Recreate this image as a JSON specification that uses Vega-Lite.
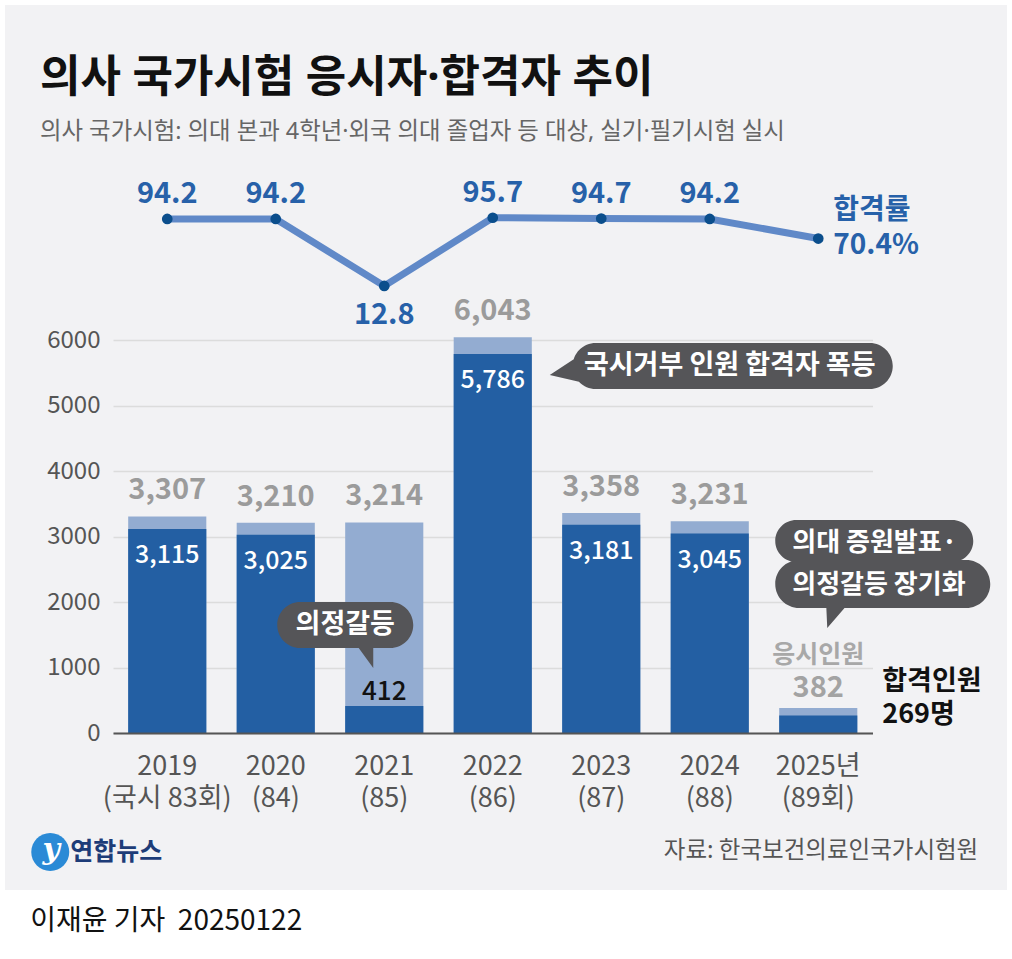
{
  "$schema": "https://vega.github.io/schema/vega-lite/v6.json",
  "width": 1002,
  "height": 885,
  "autosize": {"type": "none"},
  "padding": {"left": 5, "top": 5, "right": 5, "bottom": 69},
  "background": "#ffffff",
  "config": {
    "view": {"fill": "#f2f2f4", "stroke": null},
    "font": "Noto Sans CJK KR",
    "text": {"font": "Noto Sans CJK KR"}
  },
  "title": {
    "text": "의사 국가시험 응시자·합격자 추이",
    "subtitle": "의사 국가시험: 의대 본과 4학년·외국 의대 졸업자 등 대상, 실기·필기시험 실시",
    "anchor": "start",
    "frame": "group",
    "offset": -138,
    "dx": 35,
    "font": "Noto Sans, Noto Sans CJK KR",
    "fontSize": 44,
    "fontWeight": "bold",
    "color": "#111111",
    "subtitleFont": "Noto Sans, Noto Sans CJK KR",
    "subtitleFontSize": 23.4,
    "subtitleColor": "#666666",
    "subtitlePadding": 20
  },
  "data": {
    "values": [
      {"year": "2019", "xLabel": "2019\n(국시 83회)", "total": 3307, "pass": 3115, "rate": 94.2},
      {"year": "2020", "xLabel": "2020\n(84)", "total": 3210, "pass": 3025, "rate": 94.2},
      {"year": "2021", "xLabel": "2021\n(85)", "total": 3214, "pass": 412, "rate": 12.8},
      {"year": "2022", "xLabel": "2022\n(86)", "total": 6043, "pass": 5786, "rate": 95.7},
      {"year": "2023", "xLabel": "2023\n(87)", "total": 3358, "pass": 3181, "rate": 94.7},
      {"year": "2024", "xLabel": "2024\n(88)", "total": 3231, "pass": 3045, "rate": 94.2},
      {"year": "2025", "xLabel": "2025년\n(89회)", "total": 382, "pass": 269, "rate": 70.4}
    ]
  },
  "encoding": {
    "x": {
      "field": "year",
      "type": "nominal",
      "sort": null,
      "scale": {"type": "band", "range": [108, 867.5], "paddingInner": 0.28, "paddingOuter": 0.14},
      "axis": {"offset": -157, "labels": false, "ticks": false, "domain": true, "domainColor": "#555555", "domainWidth": 2, "grid": false, "title": null, "zindex": 1}
    }
  },
  "layer": [
    {
      "encoding": {
        "y": {
          "field": "total",
          "type": "quantitative",
          "scale": {"domain": [0, 6000], "range": [728, 335], "nice": false, "zero": true},
          "axis": {"offset": -108, "values": [0, 1000, 2000, 3000, 4000, 5000, 6000], "format": "d", "labelPadding": 13, "labelFontSize": 24, "labelColor": "#555555", "labelFont": "Noto Sans CJK KR", "ticks": false, "domain": false, "grid": true, "gridColor": "#dcdcdc", "gridWidth": 1.5, "title": null}
        }
      },
      "layer": [
        {"mark": {"type": "bar", "color": "#93acd1"}},
        {"mark": {"type": "bar", "color": "#235fa3"}, "encoding": {"y": {"field": "pass", "type": "quantitative"}}},
        {
          "transform": [{"filter": "datum.year != '2025'"}],
          "mark": {"type": "text", "dy": -17, "baseline": "alphabetic", "fontSize": 29, "fontWeight": "bold", "color": "#9b9b9b"},
          "encoding": {"text": {"field": "total", "type": "quantitative", "format": ","}}
        },
        {
          "transform": [{"filter": "datum.year == '2025'"}],
          "mark": {"type": "text", "dy": -11, "baseline": "alphabetic", "fontSize": 29, "fontWeight": "bold", "color": "#a3a3a3"},
          "encoding": {"text": {"field": "total", "type": "quantitative", "format": ","}}
        },
        {
          "transform": [{"filter": "datum.year == '2025'"}],
          "mark": {"type": "text", "dy": -45, "baseline": "alphabetic", "fontSize": 25, "fontWeight": "bold", "color": "#a8a8a8"},
          "encoding": {"text": {"value": "응시인원"}}
        },
        {
          "transform": [{"filter": "datum.year != '2021' && datum.year != '2025'"}],
          "mark": {"type": "text", "dy": 34, "baseline": "alphabetic", "fontSize": 25, "fontWeight": 500, "color": "#ffffff"},
          "encoding": {"y": {"field": "pass", "type": "quantitative"}, "text": {"field": "pass", "type": "quantitative", "format": ","}}
        },
        {
          "transform": [{"filter": "datum.year == '2021'"}],
          "mark": {"type": "text", "dy": -6, "baseline": "alphabetic", "fontSize": 26, "fontWeight": 500, "color": "#111111"},
          "encoding": {"y": {"field": "pass", "type": "quantitative"}, "text": {"field": "pass", "type": "quantitative", "format": ","}}
        },
        {
          "transform": [{"filter": "datum.year == '2025'"}],
          "mark": {"type": "text", "align": "left", "dx": 64, "dy": -33, "baseline": "middle", "lineHeight": 33, "fontSize": 27, "fontWeight": "bold", "color": "#111111"},
          "encoding": {"y": {"field": "pass", "type": "quantitative"}, "text": {"value": ["합격인원", "269명"]}}
        },
        {
          "transform": [{"filter": "datum.year == '2022'"}],
          "mark": {"type": "point", "shape": "M103 -11 L377 -11 A23 23 0 0 1 377 35 L103 35 A23 23 0 0 1 103 -11 Z M57 21 L92 -2 L96 30 Z", "size": 4, "filled": true, "color": "#555558", "opacity": 1, "strokeWidth": 0},
          "encoding": {"y": {"field": "pass", "type": "quantitative"}}
        },
        {
          "transform": [{"filter": "datum.year == '2022'"}],
          "mark": {"type": "text", "align": "center", "dx": 237, "dy": 12, "baseline": "middle", "fontSize": 27, "fontWeight": "bold", "color": "#ffffff"},
          "encoding": {"y": {"field": "pass", "type": "quantitative"}, "text": {"value": "국시거부 인원 합격자 폭등"}}
        },
        {
          "transform": [{"filter": "datum.year == '2021'"}],
          "mark": {"type": "point", "shape": "M-84 -104 L6 -104 A23 23 0 0 1 6 -58 L-84 -58 A23 23 0 0 1 -84 -104 Z M-27 -60 L-11 -60 L-11 -38 Z", "size": 4, "filled": true, "color": "#555558", "opacity": 1, "strokeWidth": 0},
          "encoding": {"y": {"field": "pass", "type": "quantitative"}}
        },
        {
          "transform": [{"filter": "datum.year == '2021'"}],
          "mark": {"type": "text", "align": "center", "dx": -39, "dy": -81, "baseline": "middle", "fontSize": 27, "fontWeight": "bold", "color": "#ffffff"},
          "encoding": {"y": {"field": "pass", "type": "quantitative"}, "text": {"value": "의정갈등"}}
        },
        {
          "transform": [{"filter": "datum.year == '2025'"}],
          "mark": {"type": "point", "shape": "M-22 -188 L134 -188 A21 21 0 0 1 134 -146 L-22 -146 A21 21 0 0 1 -22 -188 Z M-19 -148 L148 -148 A24 24 0 0 1 148 -100 L-19 -100 A24 24 0 0 1 -19 -148 Z M8 -102 L28 -102 L9 -80 Z", "size": 4, "filled": true, "color": "#555558", "opacity": 1, "strokeWidth": 0}
        },
        {
          "transform": [{"filter": "datum.year == '2025'"}],
          "mark": {"type": "text", "align": "left", "dx": -26, "dy": -165, "baseline": "middle", "lineHeight": 42, "fontSize": 26, "fontWeight": "bold", "color": "#ffffff"},
          "encoding": {"text": {"value": ["의대 증원발표·", "의정갈등 장기화"]}}
        },
        {
          "mark": {"type": "text", "dy": 42, "baseline": "alphabetic", "lineBreak": "\n", "lineHeight": 32, "fontSize": 27, "color": "#555555"},
          "encoding": {"y": {"datum": 0, "type": "quantitative"}, "text": {"field": "xLabel"}}
        },
        {
          "transform": [{"filter": "datum.year == '2025'"}],
          "mark": {"type": "text", "align": "right", "dx": 160, "dy": 125, "baseline": "alphabetic", "fontSize": 23.5, "color": "#555555"},
          "encoding": {"y": {"datum": 0, "type": "quantitative"}, "text": {"value": "자료: 한국보건의료인국가시험원"}}
        },
        {
          "transform": [{"filter": "datum.year == '2019'"}],
          "mark": {"type": "point", "shape": "M-136 119 A19 19 0 1 1 -98 119 A19 19 0 1 1 -136 119 Z", "size": 4, "filled": true, "color": "#2a8ad6", "opacity": 1, "strokeWidth": 0},
          "encoding": {"y": {"datum": 0, "type": "quantitative"}}
        },
        {
          "transform": [{"filter": "datum.year == '2019'"}],
          "mark": {"type": "text", "align": "center", "dx": -116, "dy": 117, "baseline": "middle", "fontSize": 30, "fontWeight": "bold", "fontStyle": "italic", "font": "DejaVu Serif", "color": "#ffffff"},
          "encoding": {"y": {"datum": 0, "type": "quantitative"}, "text": {"value": "y"}}
        },
        {
          "transform": [{"filter": "datum.year == '2019'"}],
          "mark": {"type": "text", "align": "left", "dx": -97, "dy": 119, "baseline": "middle", "fontSize": 25, "fontWeight": "bold", "color": "#1d3c78"},
          "encoding": {"y": {"datum": 0, "type": "quantitative"}, "text": {"value": "연합뉴스"}}
        },
        {
          "transform": [{"filter": "datum.year == '2019'"}],
          "mark": {"type": "text", "align": "left", "dx": -137, "dy": 197, "baseline": "alphabetic", "fontSize": 28, "color": "#111111"},
          "encoding": {"y": {"datum": 0, "type": "quantitative"}, "text": {"value": "이재윤 기자\u00a0 20250122"}}
        }
      ]
    },
    {
      "encoding": {
        "y": {"field": "rate", "type": "quantitative", "scale": {"domain": [0, 100], "range": [291.5, 209.2], "nice": false, "zero": false}, "axis": null}
      },
      "layer": [
        {"mark": {"type": "line", "color": "#6089c8", "strokeWidth": 7}, "encoding": {}},
        {"mark": {"type": "point", "shape": "circle", "filled": true, "size": 115, "color": "#0b4e8c", "opacity": 1}},
        {
          "transform": [{"filter": "datum.year != '2021' && datum.year != '2025'"}],
          "mark": {"type": "text", "dy": -16, "baseline": "alphabetic", "fontSize": 29, "fontWeight": "bold", "color": "#2761a9"},
          "encoding": {"text": {"field": "rate", "type": "quantitative", "format": ".1f"}}
        },
        {
          "transform": [{"filter": "datum.year == '2021'"}],
          "mark": {"type": "text", "dy": 38, "baseline": "alphabetic", "fontSize": 29, "fontWeight": "bold", "color": "#2761a9"},
          "encoding": {"text": {"field": "rate", "type": "quantitative", "format": ".1f"}}
        },
        {
          "transform": [{"filter": "datum.year == '2025'"}],
          "mark": {"type": "text", "align": "left", "dx": 15, "dy": -28, "baseline": "middle", "lineHeight": 35, "fontSize": 28, "fontWeight": "bold", "color": "#2761a9"},
          "encoding": {"text": {"value": ["합격률", "70.4%"]}}
        }
      ]
    }
  ],
  "resolve": {"scale": {"y": "independent"}}
}
